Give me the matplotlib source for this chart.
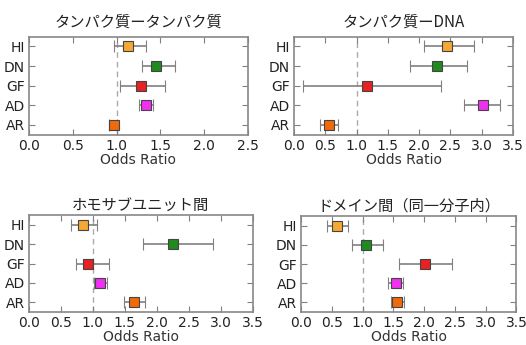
import matplotlib
matplotlib.use("Agg")
import matplotlib.pyplot as plt

plt.rcParams['font.family'] = ['DejaVu Sans', 'Noto Sans CJK JP']

categories = ["HI", "DN", "GF", "AD", "AR"]
colors = ["#f5a833", "#1f8a1f", "#e82222", "#f030f0", "#f06a0a"]

titles = ["タンパク質ータンパク質", "タンパク質ーDNA", "ホモサブユニット間", "ドメイン間（同一分子内）"]

# odds ratio, lower CI, upper CI per panel (order HI, DN, GF, AD, AR)
pp_or = [1.13, 1.45, 1.28, 1.33, 0.97]
pp_lo = [0.97, 1.29, 1.04, 1.25, 0.91]
pp_hi = [1.34, 1.67, 1.55, 1.41, 1.01]

pd_or = [2.44, 2.29, 1.16, 3.02, 0.56]
pd_lo = [2.08, 1.86, 0.15, 2.72, 0.42]
pd_hi = [2.87, 2.76, 2.35, 3.29, 0.71]

hs_or = [0.84, 2.25, 0.93, 1.11, 1.65]
hs_lo = [0.65, 1.79, 0.73, 1.02, 1.49]
hs_hi = [1.07, 2.88, 1.26, 1.22, 1.81]

dm_or = [0.59, 1.06, 2.01, 1.54, 1.56]
dm_lo = [0.42, 0.83, 1.59, 1.42, 1.46]
dm_hi = [0.76, 1.33, 2.45, 1.65, 1.67]

xmaxes = [2.5, 3.5, 3.5, 3.5]
panels = [(pp_or, pp_lo, pp_hi), (pd_or, pd_lo, pd_hi), (hs_or, hs_lo, hs_hi), (dm_or, dm_lo, dm_hi)]
positions = [
    [29/526, 1-134.7/345, 219/526, 98/345],
    [294/526, 1-134.7/345, 219/526, 98/345],
    [29/526, 1-312/345, 223.5/526, 97/345],
    [301/526, 1-312/345, 215.5/526, 96/345],
]
title_pads = [7, 7, 4, 4]

fig = plt.figure(figsize=(5.26, 3.45), dpi=100)
for pos, (o, lo, hi), title, xm, tp in zip(positions, panels, titles, xmaxes, title_pads):
    ax = fig.add_axes(pos)
    n = len(categories)
    ys = [n - 1 - i for i in range(n)]
    ax.axvline(1.0, color="#aaaaaa", linestyle=(0, (4, 3)), linewidth=1, zorder=1)
    for i in range(n):
        ax.errorbar(o[i], ys[i], xerr=[[o[i] - lo[i]], [hi[i] - o[i]]], fmt="s",
                    color=colors[i], ecolor="#808080", elinewidth=1.2, capsize=4.5,
                    capthick=1.0, markersize=6.5, markeredgecolor="#444444",
                    markeredgewidth=0.8, zorder=3)
    ax.set_xlim(0, xm)
    ax.set_ylim(-0.5, n - 0.5)
    ax.set_xticks([x * 0.5 for x in range(int(xm / 0.5) + 1)])
    ax.set_xticklabels([f"{x * 0.5:.1f}" for x in range(int(xm / 0.5) + 1)])
    ax.set_yticks(ys)
    ax.set_yticklabels(categories)
    ax.tick_params(direction="in", top=True, right=True, length=4, color="#808080",
                   labelsize=10, labelcolor="#222222", pad=3)
    for s in ax.spines.values():
        s.set_color("#888888")
        s.set_linewidth(1.2)
    ax.set_xlabel("Odds Ratio", fontsize=10, color="#333333", labelpad=0)
    ax.set_title(title, fontsize=11, color="#222222", pad=tp,
                 family=['Noto Sans CJK JP', 'DejaVu Sans'])

fig.savefig("out.png", dpi=100)
